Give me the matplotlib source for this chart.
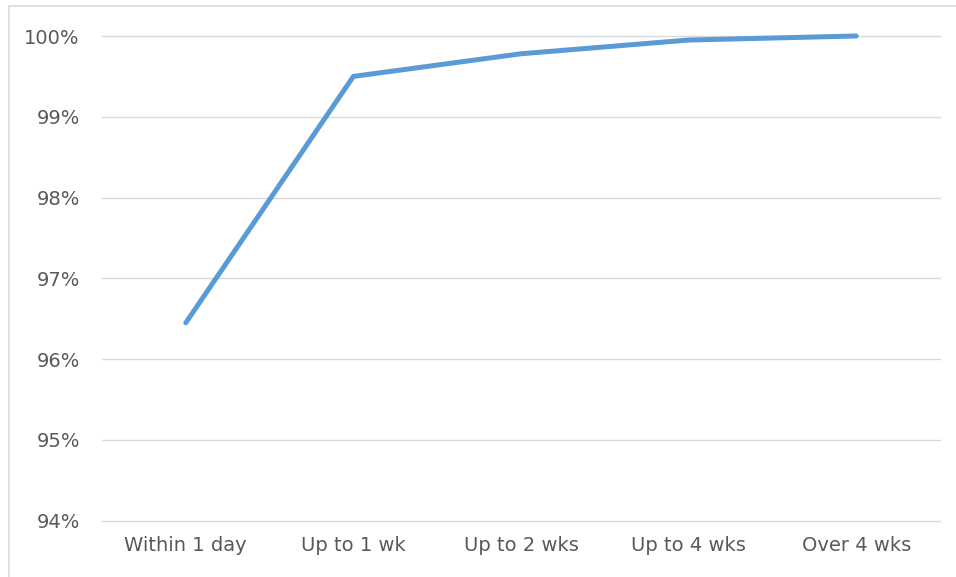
import matplotlib
matplotlib.use('Agg')
import matplotlib.pyplot as plt
from matplotlib.patches import Rectangle
from matplotlib.ticker import FuncFormatter

# Datos: porcentaje acumulado por plazo
categorias = ['Within 1 day', 'Up to 1 wk', 'Up to 2 wks', 'Up to 4 wks', 'Over 4 wks']
porcentajes = [96.45, 99.5, 99.78, 99.95, 100.0]
ticks_y = [94, 95, 96, 97, 98, 99, 100]

fig = plt.figure(figsize=(9.56, 5.77), dpi=100)
ax = fig.add_axes([102 / 956, 1 - 520.7 / 577, (940 - 102) / 956, (520.7 - 36) / 577])

# Marco gris alrededor del área del gráfico
fig.patches.append(Rectangle((8.5 / 956, -0.1), 1.2, 1.1 - 6.5 / 577,
                             transform=fig.transFigure, fill=False,
                             edgecolor='#D9D9D9', linewidth=1.2))

x = list(range(len(categorias)))
ax.plot(x, porcentajes, color='#5B9BD5', linewidth=3.6,
        solid_capstyle='round', solid_joinstyle='miter', zorder=3, clip_on=False)

ax.set_xlim(-0.5, len(categorias) - 0.5)
ax.set_ylim(94, 100)
ax.set_yticks(ticks_y)
ax.yaxis.set_major_formatter(FuncFormatter(lambda v, p: f'{v:.0f}%'))
ax.set_xticks(x)
ax.set_xticklabels(categorias)

ax.grid(axis='y', color='#D9D9D9', linewidth=1.0, zorder=0)
for g in ax.yaxis.get_gridlines():
    g.set_clip_on(False)
ax.set_axisbelow(True)
for s in ax.spines.values():
    s.set_visible(False)

ax.tick_params(axis='y', length=0, pad=16, labelsize=14, labelcolor='#595959')
ax.tick_params(axis='x', length=0, pad=11, labelsize=14, labelcolor='#595959')

plt.savefig('out.png', dpi=100)
